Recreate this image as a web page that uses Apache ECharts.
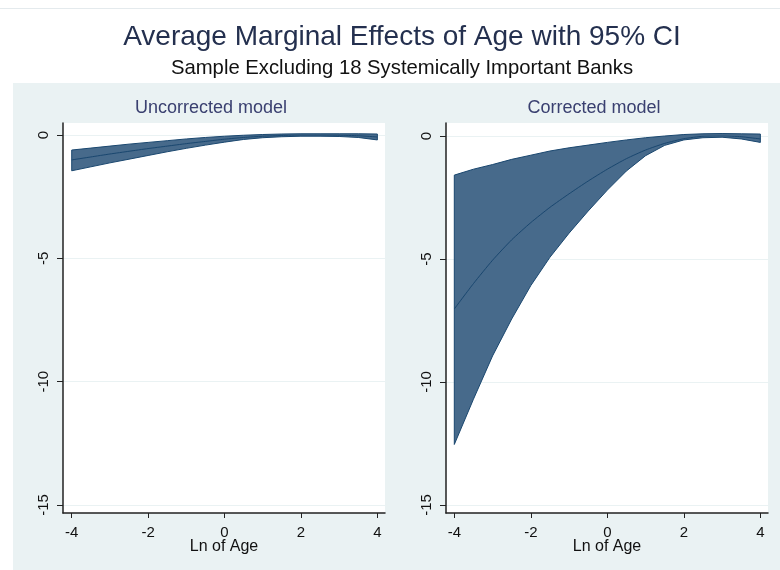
<!DOCTYPE html>
<html>
<head>
<meta charset="utf-8">
<script src="https://cdn.jsdelivr.net/npm/echarts@6/dist/echarts.min.js"></script>
<style>html,body{margin:0;padding:0;background:#fff}#c{width:780px;height:570px}</style>
</head>
<body>
<div id="c"></div>
<script>
var lnAge = [-4, -3.5, -3, -2.5, -2, -1.5, -1, -0.5, 0, 0.5, 1, 1.5, 2, 2.5, 3, 3.5, 4];

var uncUpper = [-0.61, -0.53, -0.45, -0.37, -0.30, -0.23, -0.16, -0.10, -0.05, -0.01, 0.02, 0.04, 0.05, 0.05, 0.05, 0.05, 0.04];
var uncMid   = [-1.01, -0.89, -0.77, -0.66, -0.55, -0.45, -0.35, -0.26, -0.17, -0.10, -0.05, -0.02, 0.00, 0.00, -0.01, -0.03, -0.08];
var uncLower = [-1.45, -1.29, -1.13, -0.98, -0.83, -0.68, -0.54, -0.41, -0.29, -0.18, -0.11, -0.07, -0.05, -0.05, -0.06, -0.10, -0.20];

var corUpper = [-1.59, -1.35, -1.16, -0.95, -0.78, -0.61, -0.48, -0.37, -0.26, -0.16, -0.07, 0.00, 0.06, 0.09, 0.10, 0.09, 0.08];
var corMid   = [-7.03, -6.00, -5.05, -4.22, -3.52, -2.90, -2.35, -1.83, -1.35, -0.92, -0.57, -0.30, -0.11, -0.01, 0.01, -0.03, -0.12];
var corLower = [-12.54, -10.70, -8.94, -7.44, -6.08, -4.93, -3.95, -3.05, -2.20, -1.42, -0.80, -0.38, -0.16, -0.07, -0.05, -0.12, -0.26];

var xTicks = [-4, -2, 0, 2, 4];

var mainTitle = 'Average Marginal Effects of Age with 95% CI';
var subTitle = 'Sample Excluding 18 Systemically Important Banks';
var panelTitles = ['Uncorrected model', 'Corrected model'];
var xName = 'Ln of Age';

var FONT = '"Liberation Sans", Arial, sans-serif';
var NAVY = '#1a476f';
var FILL = '#476a8b';

function pairs(xs, ys) { return xs.map(function (x, i) { return [x, ys[i]]; }); }

var panels = [
  { frameLeft: 63, dataTop: 135, dataH: 370, xmin: -4.228, xmax: 4.2, up: uncUpper, mid: uncMid, lo: uncLower },
  { frameLeft: 446, dataTop: 136, dataH: 369, xmin: -4.217, xmax: 4.2, up: corUpper, mid: corMid, lo: corLower }
];

function bandRenderer(xs, up, lo) {
  return function (params, api) {
    if (params.dataIndex !== 0) return null;
    var pts = [], i;
    for (i = 0; i < xs.length; i++) pts.push(api.coord([xs[i], up[i]]));
    for (i = xs.length - 1; i >= 0; i--) pts.push(api.coord([xs[i], lo[i]]));
    return {
      type: 'polygon',
      shape: { points: pts },
      style: { fill: FILL, stroke: NAVY, lineWidth: 1, lineJoin: 'round' }
    };
  };
}

var grids = [], xAxes = [], yAxes = [], series = [];
panels.forEach(function (p, k) {
  var fi = grids.length;
  grids.push({ left: p.frameLeft, top: 123, width: 322, height: 390, show: true, backgroundColor: '#ffffff', borderWidth: 0 });
  var di = grids.length;
  grids.push({ left: p.frameLeft, top: p.dataTop, width: 322, height: p.dataH, show: false });
  xAxes.push({ gridIndex: fi, type: 'value', min: 0, max: 1, axisLine: { show: true, onZero: false, lineStyle: { color: '#222', width: 1.5 } }, axisTick: { show: false }, axisLabel: { show: false }, splitLine: { show: false } });
  yAxes.push({ gridIndex: fi, type: 'value', min: 0, max: 1, axisLine: { show: true, onZero: false, lineStyle: { color: '#222', width: 1.5 } }, axisTick: { show: false }, axisLabel: { show: false }, splitLine: { show: false } });
  xAxes.push({
    gridIndex: di, type: 'value', min: p.xmin, max: p.xmax, offset: 8, position: 'bottom',
    name: xName, nameLocation: 'middle', nameGap: 26, nameMoveOverlap: false,
    nameTextStyle: { fontFamily: FONT, fontSize: 16, color: '#111' },
    axisLine: { show: false, onZero: false },
    axisTick: { show: true, length: 5, customValues: xTicks, lineStyle: { color: '#222', width: 1 } },
    axisLabel: { show: true, customValues: xTicks, margin: 12, fontFamily: FONT, fontSize: 15, color: '#111' },
    splitLine: { show: false }
  });
  yAxes.push({
    gridIndex: di, type: 'value', min: -15, max: 0, interval: 5, position: 'left',
    axisLine: { show: false, onZero: false },
    axisTick: { show: true, length: 6, lineStyle: { color: '#222', width: 1 } },
    axisLabel: { show: true, rotate: 90, margin: 12, fontFamily: FONT, fontSize: 15, color: '#111', formatter: function (v) { return String(v); } },
    splitLine: { show: true, lineStyle: { color: '#eaf2f3', width: 1 } }
  });
  var xi = xAxes.length - 1, yi = yAxes.length - 1;
  series.push({
    type: 'custom', xAxisIndex: xi, yAxisIndex: yi,
    data: lnAge.map(function (x, i) { return [x, p.up[i], p.lo[i]]; }),
    encode: { x: 0, y: [1, 2] },
    renderItem: bandRenderer(lnAge, p.up, p.lo), z: 2, silent: true
  });
  series.push({
    type: 'line', xAxisIndex: xi, yAxisIndex: yi,
    data: pairs(lnAge, p.mid), showSymbol: false, smooth: 0.2,
    lineStyle: { color: NAVY, width: 1 }, z: 4
  });
});

var chart = echarts.init(document.getElementById('c'), null, { renderer: 'canvas' });
chart.setOption({
  animation: false,
  backgroundColor: '#ffffff',
  graphic: [
    { type: 'line', z: -20, shape: { x1: 0, y1: 8.5, x2: 780, y2: 8.5 }, style: { stroke: '#e4eaed', lineWidth: 1 } },
    { type: 'rect', z: -20, shape: { x: 13, y: 83, width: 767, height: 487 }, style: { fill: '#eaf2f3' } },
    { type: 'text', x: 402, y: 37, style: { text: mainTitle, fontFamily: FONT, fontSize: 28, fill: '#24304f', textAlign: 'center', textVerticalAlign: 'middle' } },
    { type: 'text', x: 402, y: 68.5, style: { text: subTitle, fontFamily: FONT, fontSize: 20.3, fill: '#111', textAlign: 'center', textVerticalAlign: 'middle' } },
    { type: 'text', x: 211, y: 108.5, style: { text: panelTitles[0], fontFamily: FONT, fontSize: 18, fill: '#3a4070', textAlign: 'center', textVerticalAlign: 'middle' } },
    { type: 'text', x: 594, y: 108.5, style: { text: panelTitles[1], fontFamily: FONT, fontSize: 18, fill: '#3a4070', textAlign: 'center', textVerticalAlign: 'middle' } }
  ],
  grid: grids,
  xAxis: xAxes,
  yAxis: yAxes,
  series: series
});
</script>
</body>
</html>
